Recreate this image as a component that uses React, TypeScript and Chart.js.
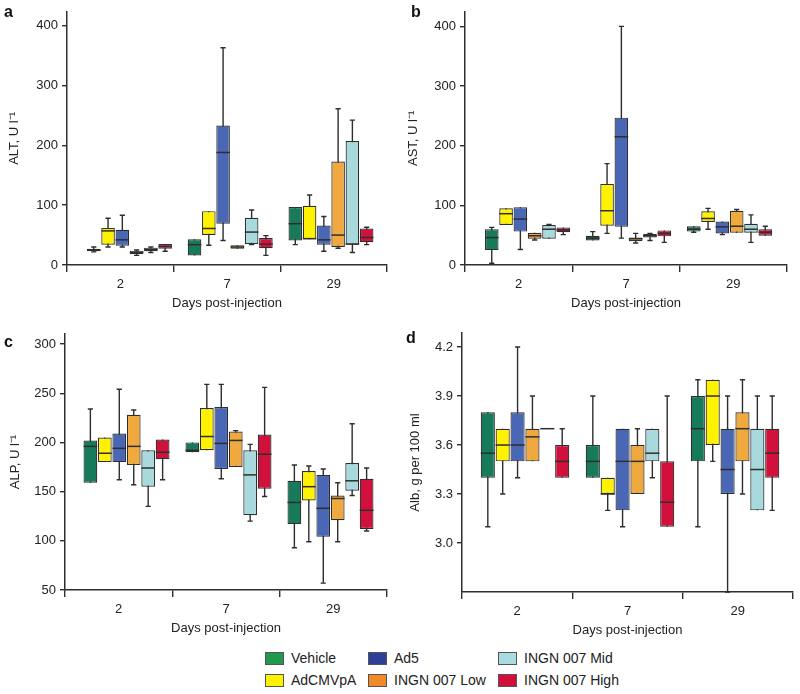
import React, { useEffect, useRef } from 'react';
import { Chart, registerables } from 'chart.js';

Chart.register(...registerables);
Chart.defaults.font.family = "'Liberation Sans', Arial, sans-serif";

// ---------- data ----------
const dayLabels = ['2', '7', '29'];
const groupNames = ['Vehicle', 'AdCMVpA', 'Ad5', 'INGN 007 Low', 'INGN 007 Mid', 'INGN 007 High'];

// each entry: [min, q1, median, q3, max] for day 2, 7, 29
const altVehicle = [[22, 23, 25, 27, 30], [16, 16, 34, 43, 43], [34, 41, 69, 97, 97]];
const altAdCMVpA = [[30, 34, 57, 62, 78], [33, 50, 61, 90, 90], [43, 43, 44, 99, 117]];
const altAd5 = [[30, 32, 42, 59, 83], [41, 69, 188, 233, 363], [23, 34, 42, 66, 81]];
const altLow = [[16, 18, 21, 24, 25], [27, 27, 30, 33, 33], [28, 30, 50, 173, 261]];
const altMid = [[21, 23, 26, 29, 30], [34, 35, 55, 79, 92], [21, 34, 35, 207, 242]];
const altHigh = [[23, 27, 31, 35, 35], [16, 28, 35, 45, 49], [34, 38, 46, 61, 63]];

const astVehicle = [[3, 25, 46, 60, 63], [41, 41, 45, 49, 56], [55, 56, 60, 65, 65]];
const astAdCMVpA = [[67, 67, 86, 95, 95], [53, 66, 91, 136, 170], [60, 72, 78, 90, 95]];
const astAd5 = [[26, 56, 77, 97, 97], [45, 64, 215, 247, 400], [51, 53, 64, 73, 73]];
const astLow = [[42, 44, 49, 54, 54], [37, 40, 44, 46, 53], [54, 54, 65, 91, 93]];
const astMid = [[44, 44, 60, 67, 68], [41, 46, 49, 52, 53], [38, 54, 60, 69, 84]];
const astHigh = [[51, 55, 59, 63, 63], [38, 48, 53, 58, 58], [49, 49, 55, 60, 65]];

const alpVehicle = [[159, 159, 196, 202, 234], [190, 190, 192, 200, 200], [93, 117, 139, 161, 177]];
const alpAdCMVpA = [[180, 180, 189, 205, 205], [192, 192, 206, 235, 259], [99, 141, 155, 171, 176]];
const alpAd5 = [[162, 180, 194, 209, 254], [163, 173, 199, 236, 259], [57, 104, 133, 167, 173]];
const alpLow = [[157, 177, 196, 228, 233], [175, 175, 202, 211, 212], [99, 121, 143, 146, 159]];
const alpMid = [[135, 155, 174, 192, 192], [120, 126, 167, 192, 198], [146, 151, 161, 179, 219]];
const alpHigh = [[162, 183, 190, 203, 203], [145, 153, 188, 208, 256], [110, 112, 131, 163, 174]];

const albVehicle = [[3.1, 3.4, 3.55, 3.8, 3.8], [3.4, 3.4, 3.5, 3.6, 3.9], [3.1, 3.5, 3.7, 3.9, 4.0]];
const albAdCMVpA = [[3.3, 3.5, 3.6, 3.7, 3.7], [3.2, 3.3, 3.3, 3.4, 3.4], [3.5, 3.6, 3.9, 4.0, 4.0]];
const albAd5 = [[3.4, 3.5, 3.6, 3.8, 4.2], [3.1, 3.2, 3.5, 3.7, 3.7], [2.7, 3.3, 3.45, 3.7, 3.9]];
const albLow = [[3.5, 3.5, 3.65, 3.7, 3.9], [3.3, 3.3, 3.5, 3.6, 3.7], [3.3, 3.5, 3.7, 3.8, 4.0]];
const albMid = [[3.7, 3.7, 3.7, 3.7, 3.7], [3.4, 3.5, 3.55, 3.7, 3.7], [3.2, 3.2, 3.45, 3.7, 3.9]];
const albHigh = [[3.4, 3.4, 3.5, 3.6, 3.7], [3.1, 3.1, 3.25, 3.5, 3.9], [3.2, 3.4, 3.55, 3.7, 3.9]];

// ---------- styles ----------
const boxColors = ['#177a5a', '#fff200', '#4a67b6', '#f0a93e', '#a8d9dd', '#d1113c'];
const legendColors = ['#1f9a4c', '#fff200', '#2e3f98', '#f28a2a', '#a9dce0', '#d0103a'];
const inkColor = '#2e2e2e';
const textColor = '#222';

type Panel = {
  letter: string;
  yTitle: string;
  series: number[][][];
  yMin: number;
  yMax: number;
  yStep: number;
  yDecimals: number;
  left: number;
  top: number;
  width: number;
  height: number;
  areaLeft: number;
  areaTop: number;
  areaRight: number;
  areaBottom: number;
  xMin: number;
  xMax: number;
  yTitlePad: number;
  letterX: number;
  letterBaseline: number;
};

const X_SCALE_H = 50;

const panels: Panel[] = [
  {
    letter: 'a', yTitle: 'ALT, U l\u207B\u00B9',
    series: [altVehicle, altAdCMVpA, altAd5, altLow, altMid, altHigh],
    yMin: 0, yMax: 423, yStep: 100, yDecimals: 0,
    left: 0, top: 0, width: 400, height: 320,
    areaLeft: 67, areaTop: 5, areaRight: 387, areaBottom: 265,
    xMin: -0.62, xMax: 2.556, yTitlePad: 7, letterX: 4, letterBaseline: 18,
  },
  {
    letter: 'b', yTitle: 'AST, U l\u207B\u00B9',
    series: [astVehicle, astAdCMVpA, astAd5, astLow, astMid, astHigh],
    yMin: 0, yMax: 424.5, yStep: 100, yDecimals: 0,
    left: 400, top: 0, width: 400, height: 320,
    areaLeft: 465, areaTop: 5, areaRight: 787, areaBottom: 265,
    xMin: -0.619, xMax: 2.569, yTitlePad: 6, letterX: 411, letterBaseline: 18,
  },
  {
    letter: 'c', yTitle: 'ALP, U l\u207B\u00B9',
    series: [alpVehicle, alpAdCMVpA, alpAd5, alpLow, alpMid, alpHigh],
    yMin: 50, yMax: 310.2, yStep: 50, yDecimals: 0,
    left: 0, top: 320, width: 400, height: 320,
    areaLeft: 65, areaTop: 334, areaRight: 387, areaBottom: 590,
    xMin: -0.603, xMax: 2.554, yTitlePad: 8, letterX: 4, letterBaseline: 348,
  },
  {
    letter: 'd', yTitle: 'Alb, g per 100 ml',
    series: [albVehicle, albAdCMVpA, albAd5, albLow, albMid, albHigh],
    yMin: 2.7, yMax: 4.286, yStep: 0.3, yDecimals: 1,
    left: 400, top: 320, width: 400, height: 324,
    areaLeft: 462, areaTop: 333, areaRight: 793, areaBottom: 592,
    xMin: -0.6, xMax: 2.552, yTitlePad: 8, letterX: 406, letterBaseline: 344,
  },
];

function BoxPanel({ p }: { p: Panel }) {
  const ref = useRef<HTMLCanvasElement | null>(null);

  useEffect(() => {
    const canvas = ref.current;
    if (!canvas) return;

    const boxPlugin = {
      id: 'boxWhiskers',
      beforeDatasetsDraw(chart: any) {
        const ctx = chart.ctx;
        const ys = chart.scales.y;
        ctx.save();
        ctx.strokeStyle = inkColor;
        ctx.lineWidth = 1.4;
        chart.data.datasets.forEach((_ds: any, di: number) => {
          const meta = chart.getDatasetMeta(di);
          meta.data.forEach((bar: any, i: number) => {
            const s = p.series[di][i];
            const x = bar.x;
            const yLo = ys.getPixelForValue(s[0]);
            const yHi = ys.getPixelForValue(s[4]);
            const cw = 2.6;
            ctx.beginPath();
            ctx.moveTo(x, yLo);
            ctx.lineTo(x, yHi);
            if (s[0] < s[1]) {
              ctx.moveTo(x - cw, yLo);
              ctx.lineTo(x + cw, yLo);
            }
            if (s[4] > s[3]) {
              ctx.moveTo(x - cw, yHi);
              ctx.lineTo(x + cw, yHi);
            }
            ctx.stroke();
          });
        });
        ctx.restore();
      },
      afterDatasetsDraw(chart: any) {
        const ctx = chart.ctx;
        const ys = chart.scales.y;
        ctx.save();
        ctx.strokeStyle = inkColor;
        ctx.lineWidth = 1.5;
        chart.data.datasets.forEach((_ds: any, di: number) => {
          const meta = chart.getDatasetMeta(di);
          meta.data.forEach((bar: any, i: number) => {
            const s = p.series[di][i];
            const ym = ys.getPixelForValue(s[2]);
            const hw = bar.width / 2;
            ctx.beginPath();
            ctx.moveTo(bar.x - hw, ym);
            ctx.lineTo(bar.x + hw, ym);
            ctx.stroke();
          });
        });
        ctx.restore();
      },
    };

    const datasets = groupNames.map((name, g) => ({
      label: name,
      data: p.series[g].map((s, i) => ({ x: i, y: [s[1], s[3]] })),
      backgroundColor: boxColors[g],
      borderColor: inkColor,
      borderWidth: 1.2,
      borderSkipped: false,
      categoryPercentage: 0.85,
      barPercentage: 0.95,
      xAxisID: 'x',
      yAxisID: 'y',
    }));

    const yWidth = p.areaLeft - p.left;
    const padTop = p.areaTop - p.top;
    const padRight = p.left + p.width - p.areaRight;
    const padBottom = p.top + p.height - p.areaBottom - X_SCALE_H;

    const chart = new Chart(canvas, {
      type: 'bar',
      data: { labels: dayLabels, datasets: datasets as any },
      plugins: [boxPlugin],
      options: {
        animation: false,
        responsive: false,
        maintainAspectRatio: false,
        layout: {
          autoPadding: false,
          padding: { left: 0, top: padTop, right: padRight, bottom: padBottom },
        },
        plugins: {
          legend: { display: false },
          tooltip: { enabled: false },
        },
        scales: {
          x: {
            type: 'linear',
            display: false,
            min: p.xMin,
            max: p.xMax,
            offset: false,
            ticks: { stepSize: 1, includeBounds: false },
            afterBuildTicks: (axis: any) => {
              axis.ticks = dayLabels.map((_d, i) => ({ value: i }));
            },
          },
          xc: {
            type: 'category',
            position: 'bottom',
            labels: dayLabels,
            offset: true,
            grid: {
              offset: true,
              drawOnChartArea: false,
              tickLength: 7,
              color: inkColor,
              lineWidth: 1.4,
            },
            border: { display: true, color: inkColor, width: 1.5 },
            ticks: { color: textColor, font: { size: 13 }, padding: 5, maxRotation: 0 },
            title: {
              display: true,
              text: 'Days post-injection',
              color: textColor,
              font: { size: 13 },
              padding: { top: 0, bottom: 4 },
            },
            afterFit: (s: any) => { s.height = X_SCALE_H; },
          },
          y: {
            type: 'linear',
            position: 'left',
            min: p.yMin,
            max: p.yMax,
            grid: {
              drawOnChartArea: false,
              tickLength: 5,
              color: inkColor,
              lineWidth: 1.4,
            },
            border: { display: true, color: inkColor, width: 1.5 },
            ticks: {
              stepSize: p.yStep,
              includeBounds: false,
              color: textColor,
              font: { size: 13 },
              padding: 4,
              callback: (v: any) => Number(v).toFixed(p.yDecimals),
            },
            afterBuildTicks: (axis: any) => {
              axis.ticks = axis.ticks.filter((t: any) => {
                const k = (t.value - p.yMin) / p.yStep;
                return Math.abs(k - Math.round(k)) < 1e-6 && t.value <= p.yMax;
              });
            },
            title: {
              display: true,
              text: p.yTitle,
              color: textColor,
              font: { size: 13 },
              padding: { top: p.yTitlePad, bottom: 0 },
            },
            afterFit: (s: any) => { s.width = yWidth; },
          },
        },
      } as any,
    });

    return () => chart.destroy();
  }, [p]);

  return (
    <canvas
      ref={ref}
      width={p.width}
      height={p.height}
      style={{ position: 'absolute', left: p.left, top: p.top, width: p.width, height: p.height }}
    />
  );
}

const legendCols = [265, 368, 498];
const legendRows = [658, 680];
// grid placement of each group: [column, row]
const legendPlace: [number, number][] = [[0, 0], [0, 1], [1, 0], [1, 1], [2, 0], [2, 1]];

export default function App() {
  const font = "'Liberation Sans', Arial, sans-serif";
  return (
    <div style={{ position: 'absolute', left: 0, top: 0, width: 800, height: 694, background: '#fff', overflow: 'hidden', fontFamily: font }}>
      {panels.map((p) => (
        <BoxPanel key={p.letter} p={p} />
      ))}
      {panels.map((p) => (
        <div
          key={'L' + p.letter}
          style={{
            position: 'absolute', left: p.letterX, top: p.letterBaseline - 14.5,
            fontSize: 16, lineHeight: '16px', fontWeight: 'bold', color: '#111',
          }}
        >
          {p.letter}
        </div>
      ))}
      {groupNames.map((name, g) => {
        const [c, r] = legendPlace[g];
        const x = legendCols[c];
        const y = legendRows[r];
        return (
          <div
            key={name}
            style={{ position: 'absolute', left: x, top: y - 9, height: 18, display: 'flex', alignItems: 'center', whiteSpace: 'nowrap' }}
          >
            <div style={{ width: 17, height: 11, background: legendColors[g], border: '1px solid #555' }} />
            <span style={{ marginLeft: 7, fontSize: 14, color: textColor }}>{name}</span>
          </div>
        );
      })}
    </div>
  );
}
